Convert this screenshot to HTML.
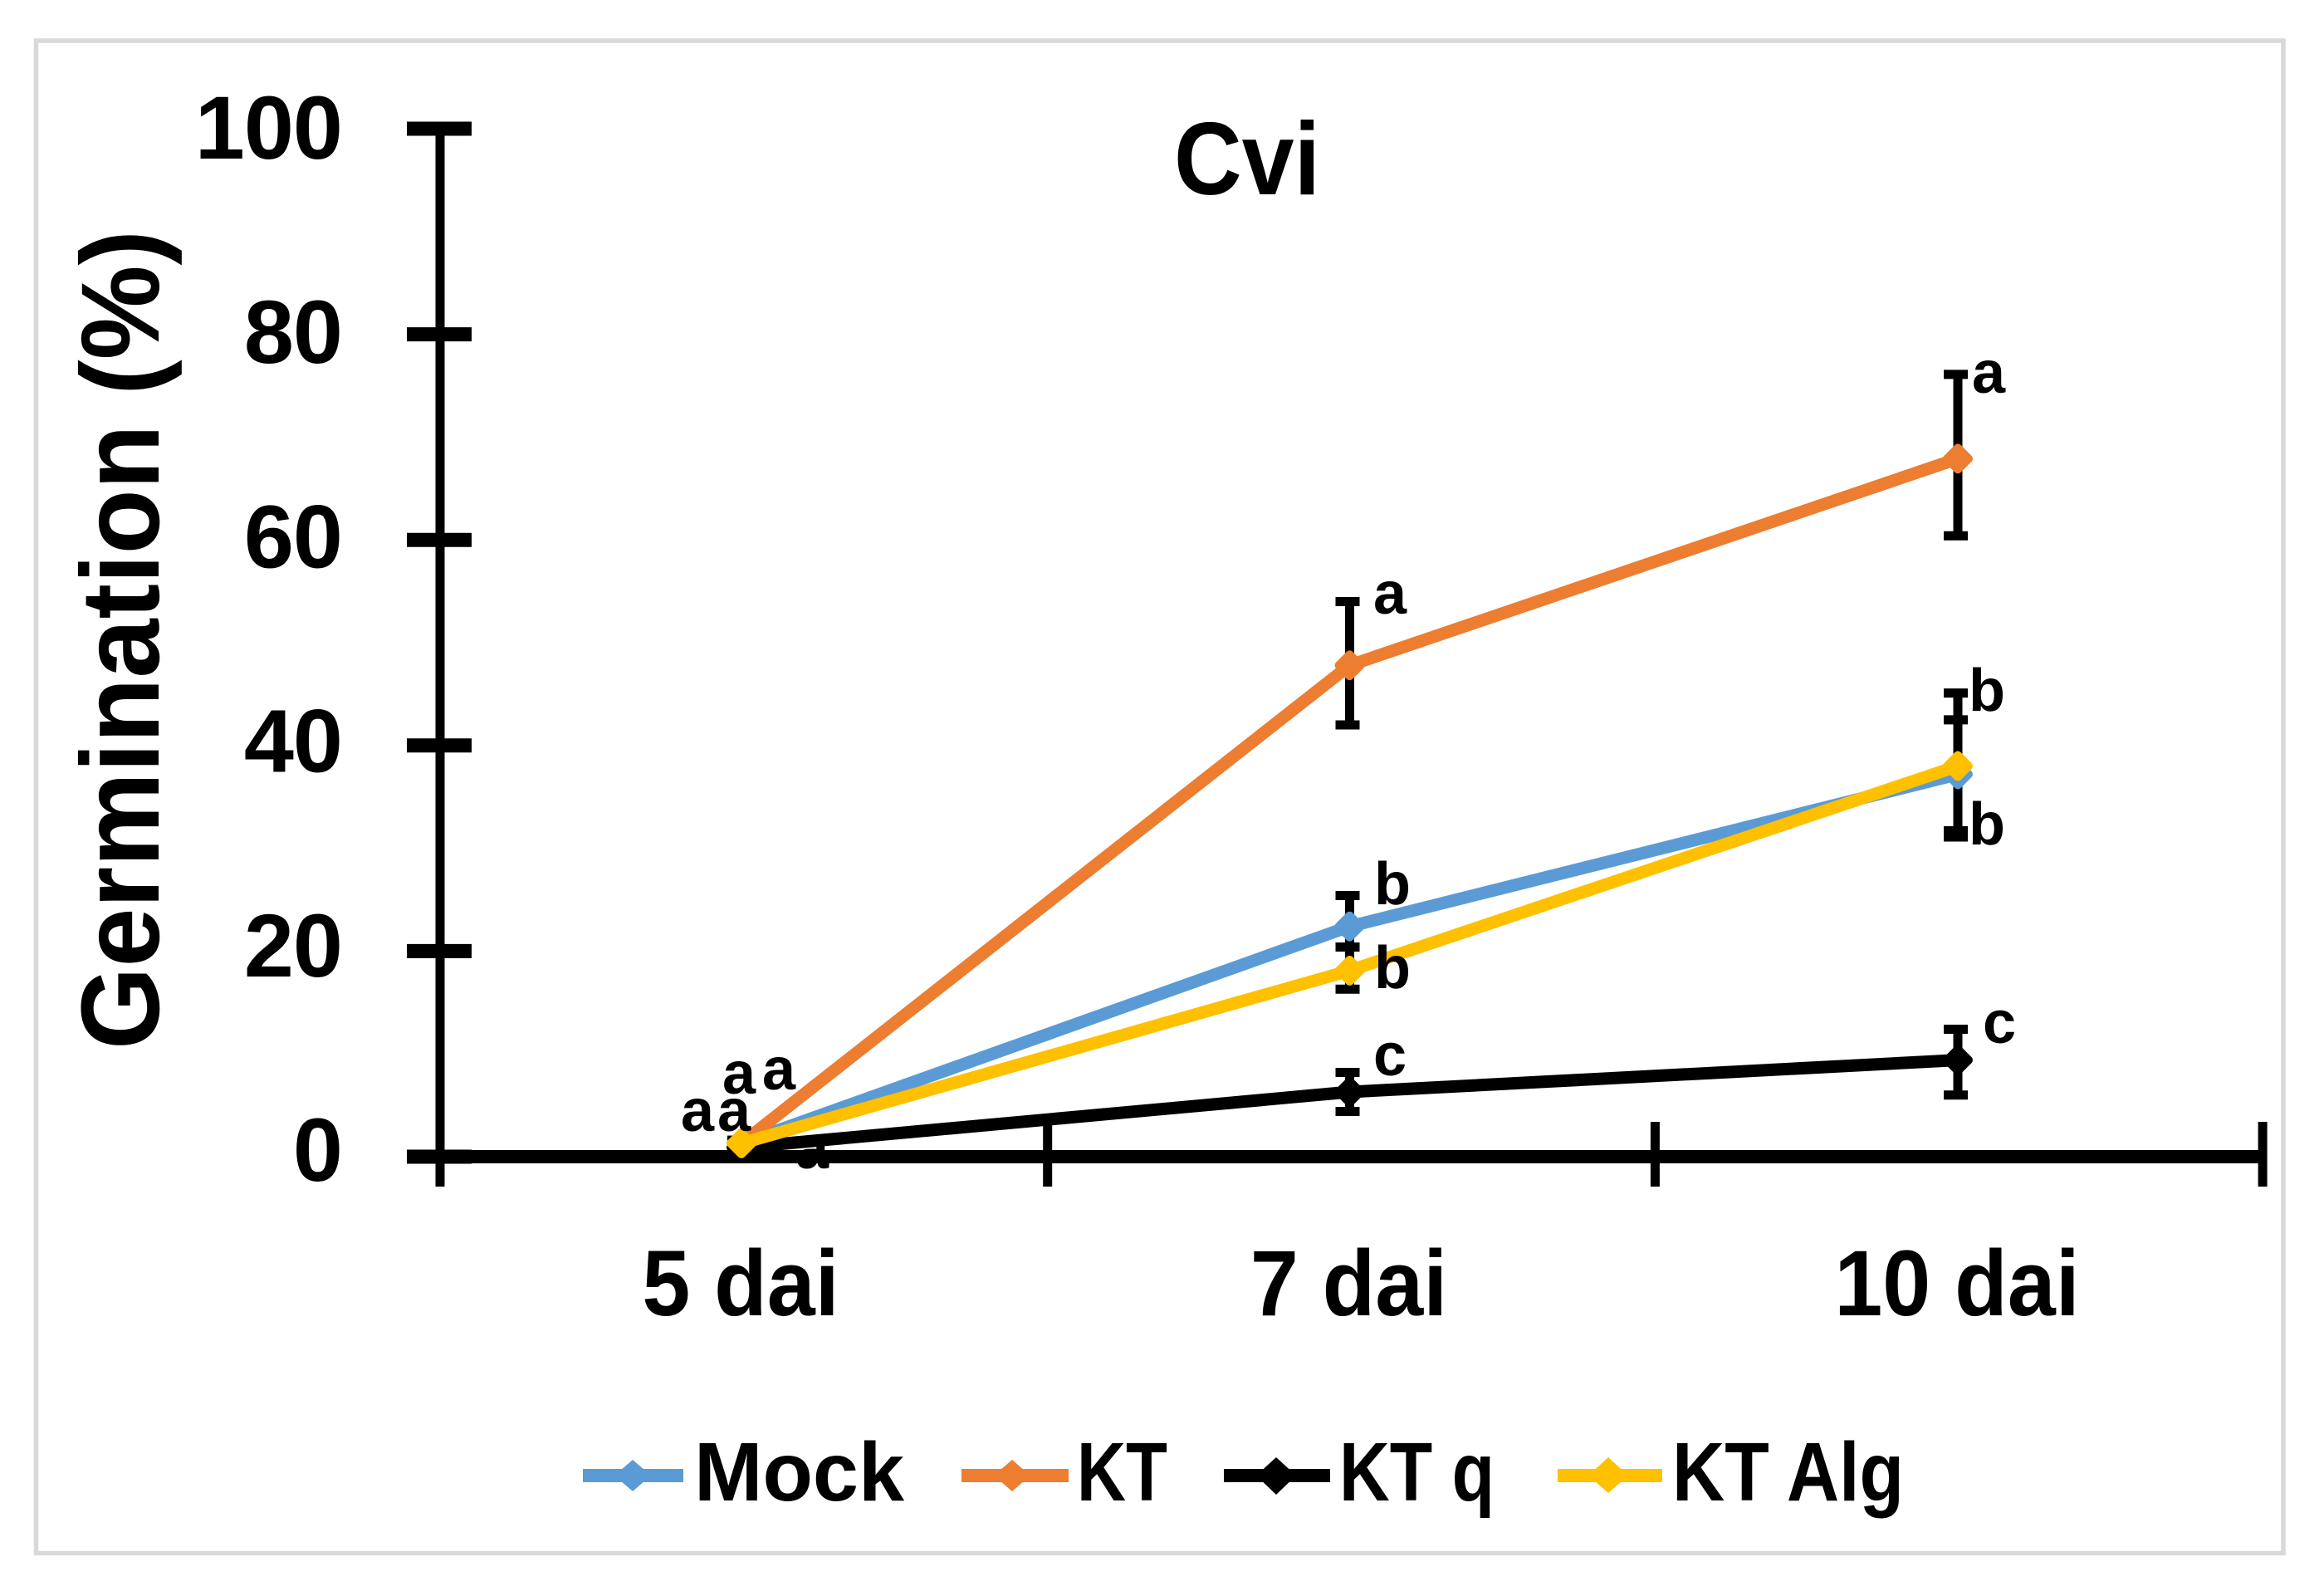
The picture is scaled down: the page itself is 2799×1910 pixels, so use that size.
<!DOCTYPE html>
<html lang="en">
<head>
<meta charset="utf-8">
<title>Cvi germination chart</title>
<style>
html,body{margin:0;padding:0;background:#fff;width:2799px;height:1910px;overflow:hidden}
svg{display:block}
text{font-family:"Liberation Sans",sans-serif;font-weight:bold;fill:#000}
.pin{font-size:72px}
</style>
</head>
<body>
<svg id="chart" xmlns="http://www.w3.org/2000/svg" width="2799" height="1910" viewBox="0 0 2799 1910">
  <rect x="0" y="0" width="2799" height="1910" fill="#fff"/>
  <rect x="43.5" y="49" width="2706.5" height="1821.5" fill="#fff" stroke="#d9d9d9" stroke-width="5.5"/>
  <text x="1414" y="234" font-size="124" textLength="176" lengthAdjust="spacingAndGlyphs">Cvi</text>
  <text transform="translate(191,1264) rotate(-90)" font-size="134" textLength="987" lengthAdjust="spacingAndGlyphs">Germination (%)</text>
  <text class="pin" x="958" y="1407">a</text>
  <g id="axes"></g>
  <g id="errors"></g>
  <g id="lines"></g>
  <g>
    <text class="pin" x="820" y="1362">a</text>
    <text class="pin" x="864" y="1362">a</text>
    <text class="pin" x="870" y="1317">a</text>
    <text class="pin" x="918" y="1312">a</text>
    <text class="pin" x="1654" y="739">a</text>
    <text class="pin" x="1655" y="1089">b</text>
    <text class="pin" x="1655" y="1190">b</text>
    <text class="pin" x="1654" y="1295">c</text>
    <text class="pin" x="2375" y="473">a</text>
    <text class="pin" x="2371" y="856">b</text>
    <text class="pin" x="2371" y="1017">b</text>
    <text class="pin" x="2388" y="1256">c</text>
  </g>
  <g>
    <g>
      <line x1="702" y1="1777" x2="823" y2="1777" stroke="#5B9BD5" stroke-width="16"/>
      <polygon points="762,1758 784,1777 762,1796 740,1777" fill="#5B9BD5"/>
      <text x="836" y="1807" font-size="100" textLength="253" lengthAdjust="spacingAndGlyphs">Mock</text>
    </g>
    <g>
      <line x1="1158" y1="1777" x2="1287" y2="1777" stroke="#ED7D31" stroke-width="16"/>
      <polygon points="1219,1758 1241,1777 1219,1796 1197,1777" fill="#ED7D31"/>
      <text x="1297" y="1807" font-size="100" textLength="109" lengthAdjust="spacingAndGlyphs">KT</text>
    </g>
    <g>
      <line x1="1474" y1="1777" x2="1602" y2="1777" stroke="#000" stroke-width="16"/>
      <polygon points="1537,1755 1561,1777 1537,1800 1513,1777" fill="#000"/>
      <text x="1613" y="1807" font-size="100" textLength="187" lengthAdjust="spacingAndGlyphs">KT q</text>
    </g>
    <g>
      <line x1="1876" y1="1777" x2="2002" y2="1777" stroke="#FFC000" stroke-width="16"/>
      <polygon points="1937,1755 1961,1777 1937,1798 1913,1777" fill="#FFC000"/>
      <text x="2014" y="1807" font-size="100" textLength="279" lengthAdjust="spacingAndGlyphs">KT Alg</text>
    </g>
  </g>
</svg>
<script>
const categories = ['5 dai', '7 dai', '10 dai'];
const yTicks = [0, 20, 40, 60, 80, 100];
const mockValues = [1.3, 22.4, 37.2];
const mockHigh = [1.6, 25.4, 42.5];
const mockLow = [1.0, 20.4, 31.7];
const ktValues = [1.3, 47.8, 67.9];
const ktHigh = [1.6, 54.0, 76.1];
const ktLow = [1.0, 42.0, 60.4];
const ktqValues = [0.9, 6.3, 9.4];
const ktqHigh = [1.5, 8.2, 12.4];
const ktqLow = [0.5, 4.4, 6.0];
const algValues = [1.3, 18.1, 38.0];
const algHigh = [1.6, 20.4, 45.1];
const algLow = [1.0, 16.3, 31.1];

const NS = 'http://www.w3.org/2000/svg';
const yScale = v => 1393 - v * 12.38;
const yLabel = v => 1422 - v * 12.31;
const xScale = i => 893 + i * 732.5;
const bandEdge = i => 530 + i * 731.7;

function make(parent, tag, attrs) {
  const el = document.createElementNS(NS, tag);
  for (const k in attrs) el.setAttribute(k, attrs[k]);
  parent.appendChild(el);
  return el;
}

const axes = document.getElementById('axes');
const errors = document.getElementById('errors');
const lines = document.getElementById('lines');

const yAxis = make(axes, 'line', {x1: 530, y1: yScale(100) - 8, x2: 530, y2: 1429, stroke: '#000', 'stroke-width': 11});


const xAxis = make(axes, 'line', {x1: 491, y1: yScale(0), x2: bandEdge(3) + 5, y2: yScale(0), stroke: '#000', 'stroke-width': 16});



yTicks.forEach(t => {
  const tick = make(axes, 'line', {x1: 490, y1: yScale(t), x2: 568, y2: yScale(t), stroke: '#000', 'stroke-width': 17});
  
  
  const label = make(axes, 'text', {x: 412, y: yLabel(t), 'text-anchor': 'end', 'font-size': 108, 'letter-spacing': -1});
  
  
  label.textContent = t;
});

categories.forEach((c, i) => {
  const label = make(axes, 'text', {x: xScale(i) - 1, y: 1584, 'text-anchor': 'middle', 'font-size': 112});
  
  
  label.textContent = c;
  label.setAttribute('textLength', label.getComputedTextLength() * 0.93);
  label.setAttribute('lengthAdjust', 'spacingAndGlyphs');
});
for (let i = 0; i <= categories.length; i++) {
  const tick = make(axes, 'line', {x1: bandEdge(i), y1: 1351, x2: bandEdge(i), y2: 1429, stroke: '#000', 'stroke-width': 11});
  
  
}

const seriesList = [
  {key: 'mock', color: '#5B9BD5', values: mockValues, high: mockHigh, low: mockLow},
  {key: 'kt', color: '#ED7D31', values: ktValues, high: ktHigh, low: ktLow},
  {key: 'kt-q', color: '#000000', values: ktqValues, high: ktqHigh, low: ktqLow},
  {key: 'kt-alg', color: '#FFC000', values: algValues, high: algHigh, low: algLow}
];

seriesList.forEach(s => {
  s.values.forEach((v, i) => {
    const x = xScale(i);
    const bar = make(errors, 'path', {
      d: 'M' + x + ' ' + yScale(s.low[i]) + 'V' + yScale(s.high[i]) +
         'M' + (x - 17) + ' ' + yScale(s.high[i]) + 'H' + (x + 12) +
         'M' + (x - 17) + ' ' + yScale(s.low[i]) + 'H' + (x + 12),
      stroke: '#000', 'stroke-width': 11, fill: 'none'
    });
    
    
  });
});

seriesList.forEach(s => {
  const pts = s.values.map((v, i) => xScale(i) + ',' + yScale(v)).join(' ');
  const line = make(lines, 'polyline', {points: pts, fill: 'none', stroke: s.color, 'stroke-width': 15, 'stroke-linejoin': 'round'});
  
  
  s.values.forEach((v, i) => {
    const x = xScale(i), y = yScale(v);
    const mark = make(lines, 'polygon', {
      points: x + ',' + (y - 13) + ' ' + (x + 13) + ',' + y + ' ' + x + ',' + (y + 13) + ' ' + (x - 13) + ',' + y,
      fill: s.color, stroke: s.color, 'stroke-width': 10, 'stroke-linejoin': 'round'
    });
    
    
  });
});
</script>
</body>
</html>
